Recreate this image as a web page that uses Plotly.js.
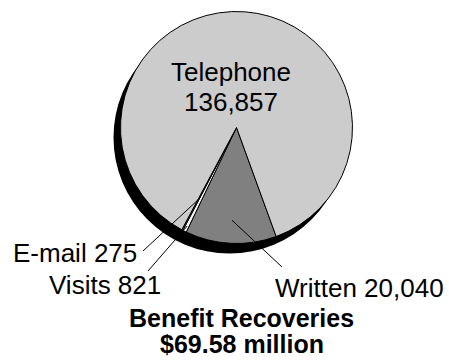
<!DOCTYPE html>
<html>
<head>
<meta charset="utf-8">
<script src="https://cdn.plot.ly/plotly-3.0.1.min.js"></script>
<style>html,body{margin:0;padding:0;background:#fff;}#chart{width:449px;height:360px;}</style>
</head>
<body>
<div id="chart"></div>
<script>
// Data
var categories = ['Written', 'Visits', 'E-mail', 'Telephone'];
var values = [20040, 821, 275, 136857];
var valueLabels = ['20,040', '821', '275', '136,857'];
var sliceColors = ['#808080', '#ffffff', '#707070', '#cccccc'];
var titleLines = ['Benefit Recoveries', '$69.58 million'];

// Layout geometry (pixels)
var W = 449, H = 360;
var cx = 236.5, cy = 127.5, r = 116;
var shadowDx = -7, shadowDy = 10;
var rotation = 160;
var FONT = 'Arial, "Liberation Sans", sans-serif';

function px2x(px) { return px / W; }
function py2y(py) { return 1 - py / H; }
function domainFor(x0, y0, rad) {
  return { x: [px2x(x0 - rad), px2x(x0 + rad)], y: [py2y(y0 + rad), py2y(y0 - rad)] };
}

var total = values.reduce(function (a, b) { return a + b; }, 0);
function tip(i, f) {
  var before = 0;
  for (var k = 0; k < i; k++) before += values[k];
  var ang = (rotation + 360 * (before + values[i] / 2) / total) * Math.PI / 180;
  return [cx + f * r * Math.sin(ang), cy - f * r * Math.cos(ang)];
}

var shadow = {
  type: 'pie',
  values: [total],
  labels: ['shadow'],
  marker: { colors: ['#000000'], line: { color: '#000000', width: 0 } },
  textinfo: 'none',
  hoverinfo: 'skip',
  sort: false,
  showlegend: false,
  domain: domainFor(cx + shadowDx, cy + shadowDy, r)
};

var pie = {
  type: 'pie',
  values: values,
  labels: categories,
  marker: { colors: sliceColors, line: { color: '#000000', width: 1 } },
  textinfo: 'none',
  hoverinfo: 'label+value',
  sort: false,
  direction: 'clockwise',
  rotation: rotation,
  showlegend: false,
  domain: domainFor(cx, cy, r)
};

function ann(text, px, py, opts) {
  var a = {
    text: text, x: px2x(px), y: py2y(py), xref: 'paper', yref: 'paper',
    showarrow: false, xanchor: 'center', yanchor: 'middle',
    font: { family: FONT, size: 26, color: '#000000' }
  };
  if (opts) for (var k in opts) a[k] = opts[k];
  return a;
}

var annotations = [
  ann(categories[3], 231.5, 72),
  ann(valueLabels[3], 231, 102),
  ann(categories[0] + ' ' + valueLabels[0], 359, 288),
  ann(categories[1] + ' ' + valueLabels[1], 105, 285),
  ann(categories[2] + ' ' + valueLabels[2], 75, 253),
  ann('<b>' + titleLines[0] + '</b>', 241, 318, { font: { family: FONT, size: 25, color: '#000000' } }),
  ann('<b>' + titleLines[1] + '</b>', 241.5, 344, { font: { family: FONT, size: 25, color: '#000000' } })
];

function line(p0, p1) {
  return { type: 'line', xref: 'paper', yref: 'paper',
    x0: px2x(p0[0]), y0: py2y(p0[1]), x1: px2x(p1[0]), y1: py2y(p1[1]),
    line: { color: '#000000', width: 1 } };
}

var shapes = [
  line(tip(0, 0.8), [282, 267]),
  line(tip(1, 0.95), [148, 271]),
  line(tip(2, 0.7), [143, 251])
];

var layout = {
  width: W, height: H,
  margin: { l: 0, r: 0, t: 0, b: 0 },
  paper_bgcolor: '#ffffff',
  plot_bgcolor: '#ffffff',
  showlegend: false,
  annotations: annotations,
  shapes: shapes
};

Plotly.newPlot('chart', [shadow, pie], layout, { displayModeBar: false, staticPlot: true });
</script>
</body>
</html>
